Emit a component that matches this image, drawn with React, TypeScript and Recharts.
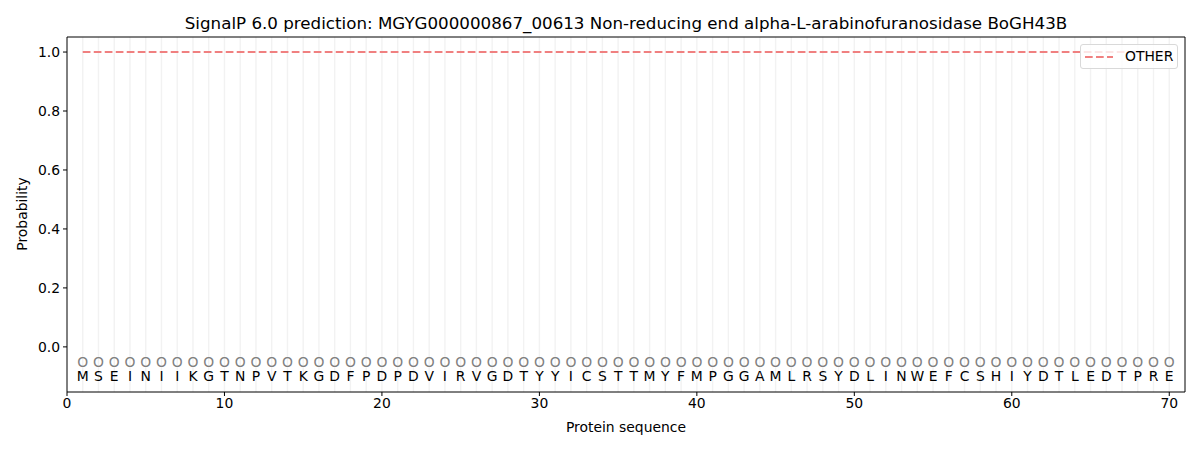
import React from 'react';
import { ComposedChart, XAxis, YAxis, Line, Scatter, ReferenceLine } from 'recharts';

const sequence = [
  'M','S','E','I','N','I','I','K','G','T','N','P','V','T','K','G','D','F','P','D',
  'P','D','V','I','R','V','G','D','T','Y','Y','I','C','S','T','T','M','Y','F','M',
  'P','G','G','A','M','L','R','S','Y','D','L','I','N','W','E','F','C','S','H','I',
  'Y','D','T','L','E','D','T','P','R','E',
];
const otherProb = [
  1,1,1,1,1,1,1,1,1,1,1,1,1,1,1,1,1,1,1,1,
  1,1,1,1,1,1,1,1,1,1,1,1,1,1,1,1,1,1,1,1,
  1,1,1,1,1,1,1,1,1,1,1,1,1,1,1,1,1,1,1,1,
  1,1,1,1,1,1,1,1,1,1,
];
const xTicks = [0, 10, 20, 30, 40, 50, 60, 70];
const yTicks = [0, 0.2, 0.4, 0.6, 0.8, 1.0];
const markerLevel = -0.05;
const letterLevel = -0.1;
const xDomain = [0, 71];
const yDomain = [-0.153, 1.051];

const data = sequence.map((aa, i) => ({
  pos: i + 1,
  aa,
  other: otherProb[i],
  marker: markerLevel,
  letter: letterLevel,
}));

const FONT = 'DejaVu Sans, sans-serif';

const MarkerShape = (props: any) => (
  <text x={props.cx} y={props.cy} textAnchor="middle" dominantBaseline="central"
    fontSize={13.9} fontFamily={FONT} fill="#808080">O</text>
);
const LetterShape = (props: any) => (
  <text x={props.cx} y={props.cy} textAnchor="middle" dominantBaseline="central"
    fontSize={13.9} fontFamily={FONT} fill="#000">{props.payload.aa}</text>
);

export default function App() {
  return (
    <div style={{ position: 'absolute', left: 0, top: 0, width: 1200, height: 450, fontFamily: FONT, background: '#fff' }}>
      <ComposedChart width={1200} height={450} data={data}
        margin={{ top: 37, right: 15, left: 0, bottom: 0 }}>
        <XAxis type="number" dataKey="pos" domain={xDomain} ticks={xTicks} allowDataOverflow
          height={58} tickSize={4} tickMargin={2} stroke="#000"
          tick={{ fill: '#000', fontSize: 13.9, fontFamily: FONT }} />
        <YAxis type="number" domain={yDomain} ticks={yTicks} allowDataOverflow
          width={67} tickSize={4} tickMargin={3} stroke="#000"
          tickFormatter={(v: number) => v.toFixed(1)}
          tick={{ fill: '#000', fontSize: 13.9, fontFamily: FONT }} />
        {data.map((d) => (
          <ReferenceLine key={'g' + d.pos} x={d.pos} stroke="#f2f2f2" strokeWidth={1.4} />
        ))}
        <ReferenceLine y={yDomain[1]} stroke="#000" strokeWidth={1} />
        <ReferenceLine x={xDomain[1]} stroke="#000" strokeWidth={1} />
        <Line type="linear" dataKey="other" stroke="#F08080" strokeWidth={2}
          strokeDasharray="7.7 3.3" dot={false} isAnimationActive={false} />
        <Scatter dataKey="marker" shape={MarkerShape} isAnimationActive={false} />
        <Scatter dataKey="letter" shape={LetterShape} isAnimationActive={false} />
      </ComposedChart>
      <div style={{ position: 'absolute', left: 67, width: 1118, top: 13, textAlign: 'center', fontSize: 16.7, whiteSpace: 'nowrap' }}>
        SignalP 6.0 prediction: MGYG000000867_00613 Non-reducing end alpha-L-arabinofuranosidase BoGH43B
      </div>
      <div style={{ position: 'absolute', left: 67, width: 1118, top: 419, textAlign: 'center', fontSize: 13.9 }}>
        Protein sequence
      </div>
      <div style={{ position: 'absolute', left: 22, top: 214, transform: 'translate(-50%, -50%) rotate(-90deg)', fontSize: 13.9, whiteSpace: 'nowrap' }}>
        Probability
      </div>
      <div style={{ position: 'absolute', left: 1080, top: 44, width: 96, height: 23, border: '1px solid #d9d9d9', borderRadius: 3, background: 'rgba(255,255,255,0.8)', boxSizing: 'content-box' }}>
        <svg width={30} height={4} style={{ position: 'absolute', left: 4, top: 10 }}>
          <line x1={0} y1={2} x2={28} y2={2} stroke="#F08080" strokeWidth={2} strokeDasharray="7.7 3.3" />
        </svg>
        <div style={{ position: 'absolute', left: 44, top: 3, fontSize: 13.9 }}>OTHER</div>
      </div>
    </div>
  );
}
